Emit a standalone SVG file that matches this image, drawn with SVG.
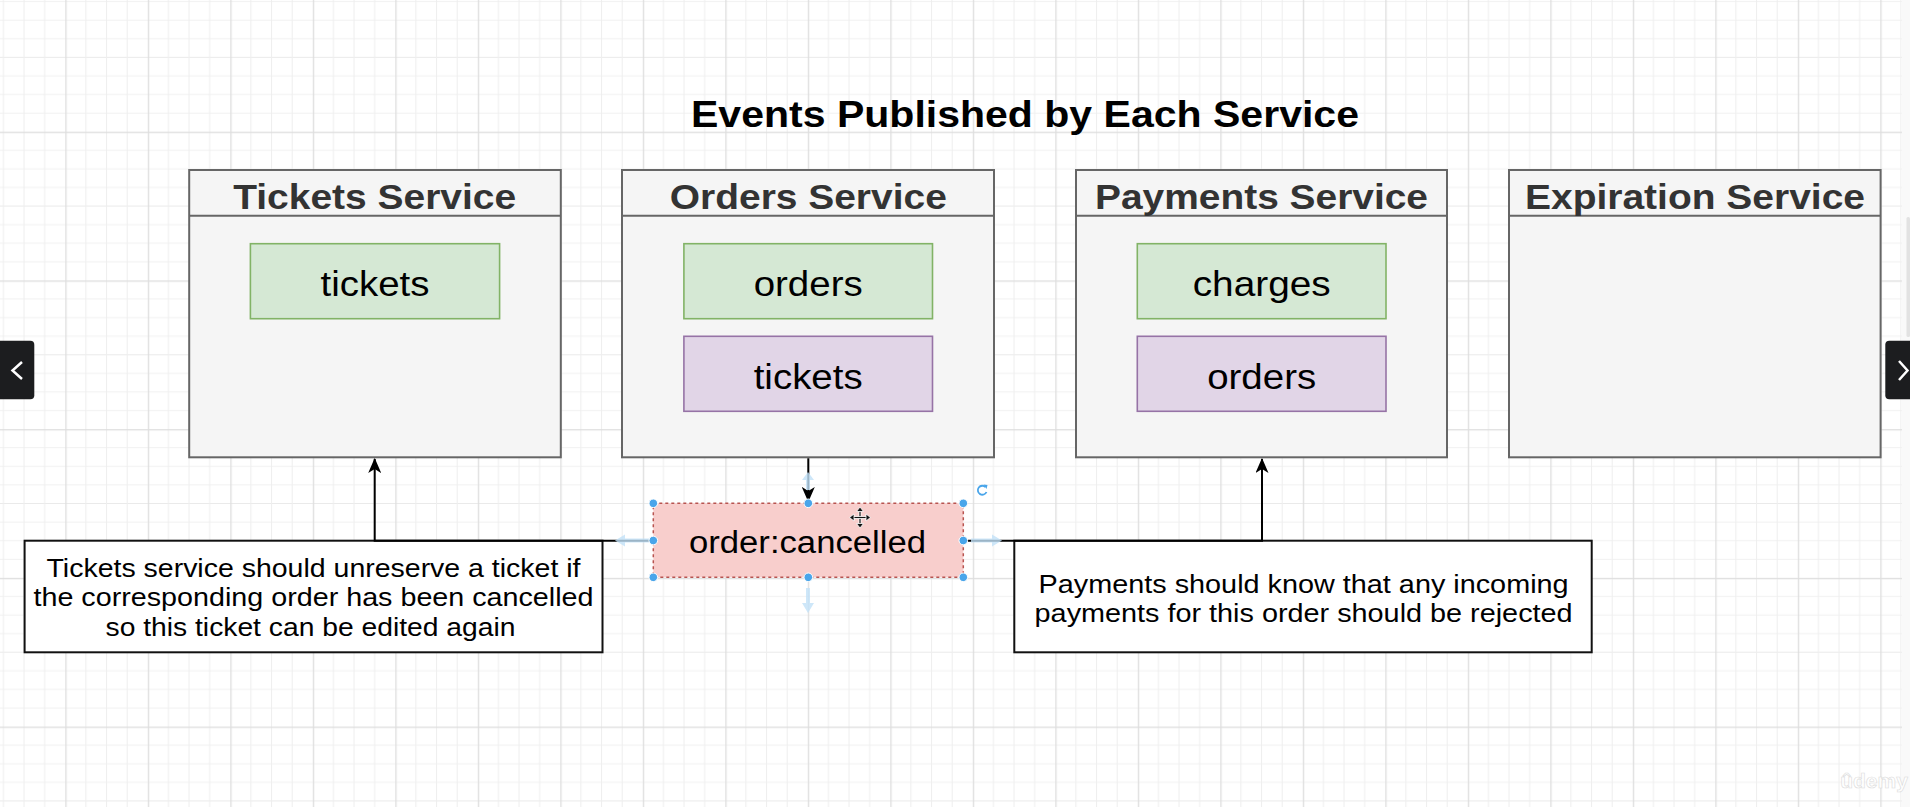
<svg xmlns="http://www.w3.org/2000/svg" width="1910" height="807" viewBox="0 0 1910 807">
<defs>
  <pattern id="grid" x="65.3" y="131.7" width="82.5" height="148.72" patternUnits="userSpaceOnUse">
    <rect x="0" y="18.09" width="82.5" height="1" fill="#f1f1f1"/>
    <rect x="0" y="36.68" width="82.5" height="1" fill="#f1f1f1"/>
    <rect x="0" y="55.27" width="82.5" height="1" fill="#f1f1f1"/>
    <rect x="0" y="73.86" width="82.5" height="1" fill="#eaeaea"/>
    <rect x="0" y="92.45" width="82.5" height="1" fill="#f1f1f1"/>
    <rect x="0" y="111.04" width="82.5" height="1" fill="#f1f1f1"/>
    <rect x="0" y="129.63" width="82.5" height="1" fill="#f1f1f1"/>
    <rect x="20.125" y="0" width="1" height="148.72" fill="#eeeeee"/>
    <rect x="40.75" y="0" width="1" height="148.72" fill="#eeeeee"/>
    <rect x="61.375" y="0" width="1" height="148.72" fill="#eeeeee"/>
    <rect x="0" y="0" width="82.5" height="1.3" fill="#dedede"/>
    <rect x="0" y="0" width="1.3" height="148.72" fill="#dedede"/>
  </pattern>
  <marker id="arrow" viewBox="0 0 15 13" markerWidth="15" markerHeight="13" refX="14" refY="6.5" orient="auto" markerUnits="userSpaceOnUse">
    <path d="M0,0 L15,6.5 L0,13 L4,6.5 z" fill="#000"/>
  </marker>
</defs>
<style>
  .svc { fill: #f5f5f5; stroke: #666666; stroke-width: 2; }
  .hdr { font-family: "Liberation Sans", Arial, sans-serif; font-weight: bold; font-size: 35px; fill: #333333; text-anchor: middle; }
  .title { font-family: "Liberation Sans", Arial, sans-serif; font-weight: bold; font-size: 37px; fill: #000; text-anchor: middle; }
  .green { fill: #d5e8d4; stroke: #82b366; stroke-width: 1.6; }
  .purple { fill: #e1d5e7; stroke: #9673a6; stroke-width: 1.6; }
  .evt { font-family: "Liberation Sans", Arial, sans-serif; font-size: 35px; fill: #000; text-anchor: middle; }
  .note { fill: #ffffff; stroke: #111; stroke-width: 2; }
  .ntxt { font-family: "Liberation Sans", Arial, sans-serif; font-size: 25px; fill: #000; text-anchor: middle; }
  .conn { fill: none; stroke: #000; stroke-width: 2; }
  .handle { fill: #49a5ea; stroke: #ffffff; stroke-width: 1; }
  .hover { fill: #c2e1f8; opacity: 0.8; }
</style>

<rect x="0" y="0" width="1910" height="807" fill="#ffffff"/>
<rect x="0" y="0" width="1902" height="807" fill="url(#grid)"/>
<rect x="1902" y="0" width="8" height="807" fill="#f9f9f9"/>
<rect x="1906.5" y="217" width="3.5" height="120" rx="1.5" fill="#e2e2e2"/>

<text class="title" x="1025" y="126.5" textLength="668" lengthAdjust="spacingAndGlyphs">Events Published by Each Service</text>

<g id="tickets-service">
  <rect class="svc" x="189.2" y="170" width="371.6" height="287.3"/>
  <line x1="189.2" y1="215.7" x2="560.8" y2="215.7" stroke="#666666" stroke-width="2"/>
  <text class="hdr" x="374.7" y="209" textLength="283" lengthAdjust="spacingAndGlyphs">Tickets Service</text>
  <g id="tickets-tickets">
    <rect class="green" x="250.4" y="243.7" width="249.2" height="75"/>
    <text class="evt" x="375" y="296" textLength="109" lengthAdjust="spacingAndGlyphs">tickets</text>
  </g>
</g>

<g id="orders-service">
  <rect class="svc" x="622" y="170" width="372" height="287.3"/>
  <line x1="622" y1="215.7" x2="994" y2="215.7" stroke="#666666" stroke-width="2"/>
  <text class="hdr" x="808.3" y="209" textLength="277" lengthAdjust="spacingAndGlyphs">Orders Service</text>
  <g id="orders-orders">
    <rect class="green" x="683.9" y="243.7" width="248.6" height="75"/>
    <text class="evt" x="808.2" y="296" textLength="109" lengthAdjust="spacingAndGlyphs">orders</text>
  </g>
  <g id="orders-tickets">
    <rect class="purple" x="683.9" y="336.3" width="248.6" height="75"/>
    <text class="evt" x="808.2" y="388.5" textLength="109" lengthAdjust="spacingAndGlyphs">tickets</text>
  </g>
</g>

<g id="payments-service">
  <rect class="svc" x="1076" y="170" width="371" height="287.3"/>
  <line x1="1076" y1="215.7" x2="1447" y2="215.7" stroke="#666666" stroke-width="2"/>
  <text class="hdr" x="1261.5" y="209" textLength="333" lengthAdjust="spacingAndGlyphs">Payments Service</text>
  <g id="payments-charges">
    <rect class="green" x="1137.3" y="243.7" width="248.7" height="75"/>
    <text class="evt" x="1261.7" y="296" textLength="138" lengthAdjust="spacingAndGlyphs">charges</text>
  </g>
  <g id="payments-orders">
    <rect class="purple" x="1137.3" y="336.3" width="248.7" height="75"/>
    <text class="evt" x="1261.7" y="388.5" textLength="109" lengthAdjust="spacingAndGlyphs">orders</text>
  </g>
</g>

<g id="expiration-service">
  <rect class="svc" x="1509" y="170" width="371.6" height="287.3"/>
  <line x1="1509" y1="215.7" x2="1880.6" y2="215.7" stroke="#666666" stroke-width="2"/>
  <text class="hdr" x="1695" y="209" textLength="340" lengthAdjust="spacingAndGlyphs">Expiration Service</text>
</g>

<g id="note-tickets">
  <rect class="note" x="24.6" y="540.7" width="577.9" height="111.6"/>
  <text class="ntxt" x="313.5" y="577" textLength="534" lengthAdjust="spacingAndGlyphs">Tickets service should unreserve a ticket if</text>
  <text class="ntxt" x="313.5" y="606" textLength="560" lengthAdjust="spacingAndGlyphs">the corresponding order has been cancelled</text>
  <text class="ntxt" x="310.5" y="635.5" textLength="410" lengthAdjust="spacingAndGlyphs">so this ticket can be edited again</text>
</g>

<g id="note-payments">
  <rect class="note" x="1014.3" y="540.7" width="577.4" height="111.6"/>
  <text class="ntxt" x="1303.6" y="592.7" textLength="530" lengthAdjust="spacingAndGlyphs">Payments should know that any incoming</text>
  <text class="ntxt" x="1303.6" y="621.7" textLength="538" lengthAdjust="spacingAndGlyphs">payments for this order should be rejected</text>
</g>

<g id="order-cancelled">
  <rect x="653.3" y="503.3" width="310" height="74" fill="#f8cecc" stroke="#b85450" stroke-width="1.5" stroke-dasharray="3 3"/>
  <text class="evt" x="807.5" y="553" style="font-size:31px" textLength="237" lengthAdjust="spacingAndGlyphs">order:cancelled</text>
</g>

<g id="connectors">
  <path class="conn" d="M653.3,540.7 H374.7 V459" marker-end="url(#arrow)"/>
  <path class="conn" d="M963.3,540.7 H1262 V459" marker-end="url(#arrow)"/>
  <path class="conn" d="M808.3,458.3 V501" marker-end="url(#arrow)"/>
</g>

<g id="selection-ui">
  <polygon class="hover" points="806,490 806,480 802,480 808,472 814,480 810,480 810,490"/>
  <polygon class="hover" points="806,588 810,588 810,603 814,603 808,613 802,603 806,603"/>
  <polygon class="hover" points="649,538.5 649,542.5 625,542.5 625,546.5 615,540.5 625,534.5 625,538.5"/>
  <polygon class="hover" points="971,538.5 992,538.5 992,534.5 1002,540.5 992,546.5 992,542.5 971,542.5"/>
  <circle class="handle" cx="653.3" cy="503.3" r="4.3"/>
  <circle class="handle" cx="808.3" cy="503.3" r="4.3"/>
  <circle class="handle" cx="963.3" cy="503.3" r="4.3"/>
  <circle class="handle" cx="653.3" cy="540.5" r="4.3"/>
  <circle class="handle" cx="963.3" cy="540.5" r="4.3"/>
  <circle class="handle" cx="653.3" cy="577.3" r="4.3"/>
  <circle class="handle" cx="808.3" cy="577.3" r="4.3"/>
  <circle class="handle" cx="963.3" cy="577.3" r="4.3"/>
  <path d="M985.5,487 A4.5,4.5 0 1 0 986.5,492" fill="none" stroke="#49a5ea" stroke-width="1.8"/>
  <polygon points="983.5,484.5 987.5,485 986.5,489" fill="#49a5ea"/>
  <g id="move-cursor" stroke="#ffffff" stroke-width="0.8" fill="#111">
    <rect x="859" y="510" width="2" height="15"/>
    <rect x="852.5" y="516.5" width="15" height="2"/>
    <polygon points="860,507 863.5,511.5 856.5,511.5"/>
    <polygon points="860,528 863.5,523.5 856.5,523.5"/>
    <polygon points="849.5,517.5 854,514 854,521"/>
    <polygon points="870.5,517.5 866,514 866,521"/>
  </g>
</g>

<g id="nav">
  <rect x="-6" y="340.7" width="40.3" height="58.6" rx="4" fill="#1c1d1f"/>
  <polyline points="22,362 12.5,370.5 22,379" fill="none" stroke="#ffffff" stroke-width="2.5"/>
  <rect x="1885.3" y="340.7" width="32" height="58.6" rx="4" fill="#1c1d1f"/>
  <polyline points="1899,361 1907.5,370.5 1899,380" fill="none" stroke="#ffffff" stroke-width="2.5"/>
</g>

<text x="1874" y="788" font-family="'Liberation Sans', Arial, sans-serif" font-size="21" font-weight="bold" fill="#ffffff" stroke="#d8d8d8" stroke-width="0.6" text-anchor="middle" opacity="0.9">ûdemy</text>
</svg>
